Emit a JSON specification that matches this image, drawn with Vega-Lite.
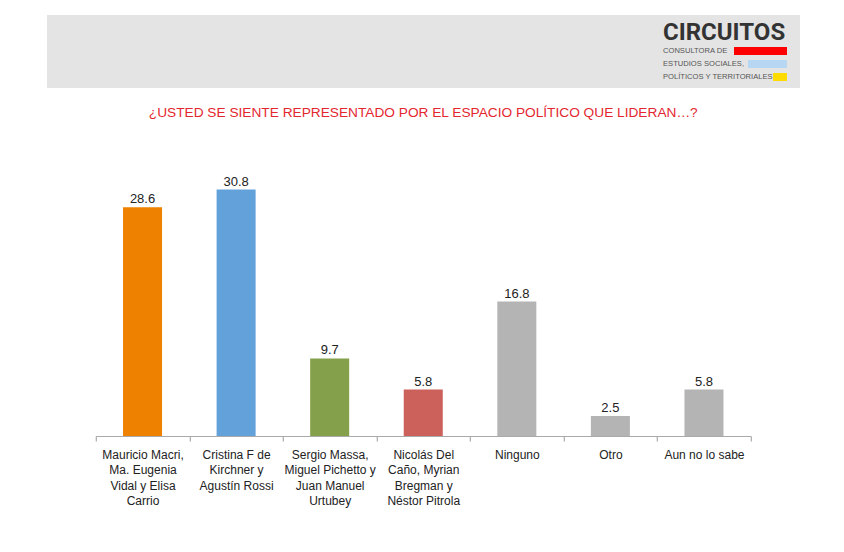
{
  "$schema": "https://vega.github.io/schema/vega-lite/v6.json",
  "background": "white",
  "padding": {"left": 47, "top": 15, "right": 10, "bottom": 10},
  "spacing": 18,
  "center": true,
  "config": {
    "font": "Liberation Sans",
    "view": {"stroke": null},
    "axis": {"labelFont": "Liberation Sans"}
  },
  "vconcat": [
    {
      "width": 753,
      "height": 73,
      "view": {"fill": "#e4e4e4", "stroke": null},
      "data": {
        "values": [
          {"linea": "CONSULTORA DE"},
          {"linea": "ESTUDIOS SOCIALES,"},
          {"linea": "POLÍTICOS Y TERRITORIALES"}
        ]
      },
      "encoding": {
        "y": {
          "field": "linea",
          "type": "nominal",
          "axis": null,
          "scale": {
            "type": "band",
            "domain": ["CIRCUITOS", "CONSULTORA DE", "ESTUDIOS SOCIALES,", "POLÍTICOS Y TERRITORIALES"],
            "paddingInner": 0,
            "paddingOuter": 0.81,
            "align": 0.786
          }
        }
      },
      "layer": [
        {
          "transform": [{"filter": "datum.linea === 'CONSULTORA DE'"}],
          "mark": {"type": "tick", "orient": "horizontal", "size": 53, "thickness": 8, "xOffset": -39.5, "color": "#ff0000", "opacity": 1},
          "encoding": {"x": {"value": "width"}}
        },
        {
          "transform": [{"filter": "datum.linea === 'ESTUDIOS SOCIALES,'"}],
          "mark": {"type": "tick", "orient": "horizontal", "size": 39, "thickness": 8, "xOffset": -32.5, "color": "#b7d6f2", "opacity": 1},
          "encoding": {"x": {"value": "width"}}
        },
        {
          "transform": [{"filter": "datum.linea === 'POLÍTICOS Y TERRITORIALES'"}],
          "mark": {"type": "tick", "orient": "horizontal", "size": 14, "thickness": 8, "xOffset": -20, "color": "#ffdc00", "opacity": 1},
          "encoding": {"x": {"value": "width"}}
        },
        {
          "transform": [{"filter": "datum.linea === 'CONSULTORA DE'"}],
          "mark": {
            "type": "text",
            "text": "CIRCUITOS",
            "font": "Roboto",
            "fontSize": 24,
            "fontWeight": "bold",
            "color": "#333333",
            "align": "left",
            "baseline": "middle",
            "dx": -137,
            "dy": -18
          },
          "encoding": {"x": {"value": "width"}}
        },
        {
          "mark": {
            "type": "text",
            "font": "Liberation Sans",
            "fontSize": 7.6,
            "color": "#555555",
            "align": "left",
            "baseline": "middle",
            "dx": -137
          },
          "encoding": {
            "x": {"value": "width"},
            "text": {"field": "linea"}
          }
        }
      ]
    },
    {
      "width": 655,
      "height": 296,
      "title": {
        "text": "¿USTED SE SIENTE REPRESENTADO POR EL ESPACIO POLÍTICO QUE LIDERAN…?",
        "color": "#e4262f",
        "font": "Liberation Sans",
        "fontSize": 13.7,
        "fontWeight": "normal",
        "anchor": "middle",
        "offset": 20
      },
      "data": {
        "values": [
          {"espacio": "Mauricio Macri,\nMa. Eugenia\nVidal y Elisa\nCarrio", "fuerza": "Cambiemos", "pct": 28.6},
          {"espacio": "Cristina F de\nKirchner y\nAgustín Rossi", "fuerza": "Unidad Ciudadana", "pct": 30.8},
          {"espacio": "Sergio Massa,\nMiguel Pichetto y\nJuan Manuel\nUrtubey", "fuerza": "Peronismo Federal", "pct": 9.7},
          {"espacio": "Nicolás Del\nCaño, Myrian\nBregman y\nNéstor Pitrola", "fuerza": "FIT", "pct": 5.8},
          {"espacio": "Ninguno", "fuerza": "Ninguno", "pct": 16.8},
          {"espacio": "Otro", "fuerza": "Otro", "pct": 2.5},
          {"espacio": "Aun no lo sabe", "fuerza": "Aun no lo sabe", "pct": 5.8}
        ]
      },
      "encoding": {
        "x": {
          "field": "espacio",
          "type": "nominal",
          "sort": null,
          "scale": {"paddingInner": 0, "paddingOuter": 0},
          "axis": {
            "title": null,
            "labelAngle": 0,
            "labelExpr": "datum.value ? split(datum.value, '\\n') : ''",
            "labelFontSize": 12,
            "labelColor": "#222222",
            "labelLineHeight": 15.5,
            "labelPadding": 8,
            "labelBaseline": "top",
            "domainColor": "#aaaaaa",
            "ticks": true,
            "tickColor": "#999999",
            "tickWidth": 1,
            "tickSize": 5,
            "tickBand": "extent"
          }
        },
        "y": {
          "field": "pct",
          "type": "quantitative",
          "scale": {"domain": [0, 37]},
          "axis": null
        }
      },
      "layer": [
        {
          "mark": {"type": "bar", "width": {"band": 0.417}},
          "encoding": {
            "color": {
              "field": "fuerza",
              "type": "nominal",
              "legend": null,
              "scale": {
                "domain": ["Cambiemos", "Unidad Ciudadana", "Peronismo Federal", "FIT", "Ninguno", "Otro", "Aun no lo sabe"],
                "range": ["#ee8100", "#63a1db", "#84a04a", "#cc605a", "#b4b4b4", "#b4b4b4", "#b4b4b4"]
              }
            }
          }
        },
        {
          "mark": {"type": "text", "baseline": "bottom", "dy": -1, "fontSize": 13, "color": "#222222"},
          "encoding": {
            "text": {"field": "pct", "type": "quantitative", "format": ".1f"}
          }
        }
      ]
    }
  ]
}
